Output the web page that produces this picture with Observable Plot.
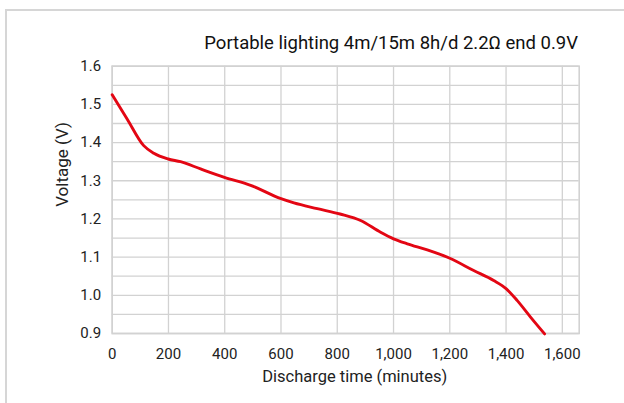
<!DOCTYPE html>
<html>
<head>
<meta charset="utf-8">
<script src="https://cdn.jsdelivr.net/npm/d3@7"></script>
<script src="https://cdn.jsdelivr.net/npm/@observablehq/plot@0.6"></script>
<style>
  html, body { margin: 0; padding: 0; background: #fff; overflow: hidden; }
  #wrap { position: relative; width: 624px; height: 403px; overflow: hidden; font-family: Roboto, sans-serif; }
  #panel { position: absolute; left: 5px; top: 9px; width: 700px; height: 500px; border: 2px solid #d6d6d6; box-sizing: border-box; }
  #title { position: absolute; right: 46px; top: 32px; font-size: 18.5px; color: #111; white-space: nowrap; line-height: 22px; }
  #chart { position: absolute; left: 0; top: 0; }
</style>
</head>
<body>
<div id="wrap">
  <div id="panel"></div>
  <div id="title">Portable lighting 4m/15m 8h/d 2.2Ω end 0.9V</div>
  <div id="chart"></div>
</div>
<script>
// Discharge time (minutes)
const times = [0, 53, 112, 148, 199, 243, 314, 399, 492, 600, 646, 729, 810, 883, 954, 1000, 1049, 1120, 1200, 1285, 1356, 1401, 1440, 1487, 1537];
// Voltage (V)
const volts = [1.525, 1.462, 1.392, 1.372, 1.357, 1.350, 1.331, 1.309, 1.288, 1.253, 1.242, 1.227, 1.213, 1.196, 1.165, 1.148, 1.135, 1.119, 1.097, 1.065, 1.039, 1.017, 0.986, 0.943, 0.899];

const xTicks = [0, 200, 400, 600, 800, 1000, 1200, 1400, 1600];
const yTicks = [0.9, 1.0, 1.1, 1.2, 1.3, 1.4, 1.5, 1.6];
const yGrid = [0.9, 0.95, 1.0, 1.05, 1.1, 1.15, 1.2, 1.25, 1.3, 1.35, 1.4, 1.45, 1.5, 1.55, 1.6];
const xDomain = [0, 1660];
const yDomain = [0.9, 1.6];

const data = times.map((t, i) => ({t, v: volts[i]}));

const chart = Plot.plot({
  width: 624,
  height: 403,
  marginLeft: 111.7,
  marginRight: 45.3,
  marginTop: 65.7,
  marginBottom: 70,
  style: {fontFamily: "Roboto, sans-serif", fontSize: "15px", color: "#222", background: "transparent"},
  x: {domain: xDomain, ticks: xTicks, tickFormat: d3.format(","), tickSize: 0, tickPadding: 15, label: null},
  y: {domain: yDomain, ticks: yTicks, tickFormat: d3.format(".1f"), tickSize: 0, tickPadding: 11, label: null},
  marks: [
    Plot.ruleX(xTicks, {stroke: "#d2d2d2", strokeWidth: 1.3}),
    Plot.ruleY(yGrid, {stroke: "#d2d2d2", strokeWidth: 1.3}),
    Plot.frame({stroke: "#d2d2d2", strokeWidth: 1.6}),
    Plot.line(data, {x: "t", y: "v", stroke: "#e30613", strokeWidth: 2.9, curve: "monotone-x"}),
    Plot.text(["Discharge time (minutes)"], {frameAnchor: "bottom", text: d => d, dx: 9, dy: 48, fontSize: 16.5, fill: "#222"}),
    Plot.text(["Voltage (V)"], {frameAnchor: "left", text: d => d, rotate: -90, dx: -50, dy: 7, fontSize: 17, fill: "#222"})
  ]
});
document.getElementById("chart").appendChild(chart);
</script>
</body>
</html>
